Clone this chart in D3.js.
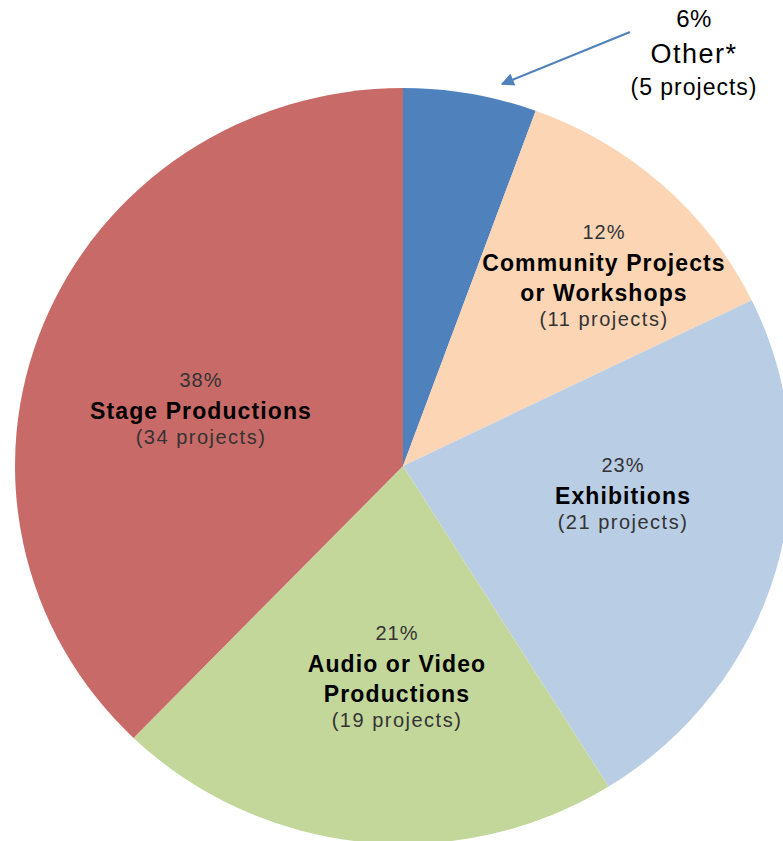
<!DOCTYPE html>
<html>
<head>
<meta charset="utf-8">
<script src="https://cdn.jsdelivr.net/npm/d3@7"></script>
<style>
	body { margin: 0; background: #fff; }
	svg { display: block; font-family: "Liberation Sans", Arial, sans-serif; }
</style>
</head>
<body>
<div id="chart"></div>
<script>
'use strict'

// Project types, clockwise from 12 o'clock
const categories = ['Other*', 'Community Projects\nor Workshops', 'Exhibitions', 'Audio or Video\nProductions', 'Stage Productions'];
const projects = [5, 11, 21, 19, 34];
const colors = ['#4F81BD', '#FCD5B5', '#B9CDE5', '#C4D79B', '#C86A67'];

const width = 783;
const height = 841;
const cx = 403, cy = 466;
const rx = 388, ry = 378;

// label anchors (baseline of the first line)
const labelPos = [[694, 27], [604, 239], [623, 472], [397, 640], [201, 387]];

const total = d3.sum(projects);

const svg = d3.select('#chart')
	.append('svg')
	.attr('width', width)
	.attr('height', height);

const pie = d3.pie().sort(null).value(d => d.value);
const arc = d3.arc().innerRadius(0).outerRadius(ry);

const data = categories.map((c, i) => ({ name: c, value: projects[i], color: colors[i] }));

// the slices (the pie is a bit wider than tall)
svg.append('g')
	.attr('transform', `translate(${cx},${cy}) scale(${rx / ry},1)`)
	.selectAll('path')
	.data(pie(data))
	.enter()
	.append('path')
		.attr('d', arc)
		.attr('fill', d => d.data.color);

// labels
const labels = svg.append('g')
	.selectAll('text')
	.data(data)
	.enter()
	.append('text')
		.attr('text-anchor', 'middle')
		.attr('x', (d, i) => labelPos[i][0])
		.attr('y', (d, i) => labelPos[i][1]);

labels.each(function(d, i) {
	let t = d3.select(this);
	let big = i === 0;
	let x = labelPos[i][0];
	t.append('tspan')
		.attr('x', x)
		.attr('font-size', big ? 24 : 20)
		.attr('letter-spacing', big ? 0.5 : 1)
		.attr('fill', big ? '#000' : '#333')
		.text(Math.round(d.value / total * 100) + '%');
	d.name.split('\n').forEach((line, j) => {
		t.append('tspan')
			.attr('x', x)
			.attr('dy', big ? 36 : (j === 0 ? 32 : 30))
			.attr('font-size', big ? 27 : 23)
			.attr('letter-spacing', big ? 1.5 : 1.1)
			.attr('font-weight', big ? 'normal' : 'bold')
			.attr('fill', '#000')
			.text(line);
	});
	t.append('tspan')
		.attr('x', x)
		.attr('dy', big ? 32 : 25)
		.attr('font-size', big ? 23 : 20)
		.attr('letter-spacing', big ? 1 : 1.5)
		.attr('fill', big ? '#000' : '#333')
		.text(`(${d.value} projects)`);
});

// arrow pointing to the small slice
svg.append('defs').append('marker')
	.attr('id', 'head')
	.attr('viewBox', '0 0 10 10')
	.attr('refX', 9).attr('refY', 5)
	.attr('markerWidth', 15).attr('markerHeight', 13)
	.attr('markerUnits', 'userSpaceOnUse')
	.attr('orient', 'auto')
	.append('path')
		.attr('d', 'M0,0 L10,5 L0,10 z')
		.attr('fill', '#4F81BD');

svg.append('line')
	.attr('x1', 630).attr('y1', 32)
	.attr('x2', 502).attr('y2', 84)
	.attr('stroke', '#4F81BD')
	.attr('stroke-width', 2)
	.attr('marker-end', 'url(#head)');
</script>
</body>
</html>
